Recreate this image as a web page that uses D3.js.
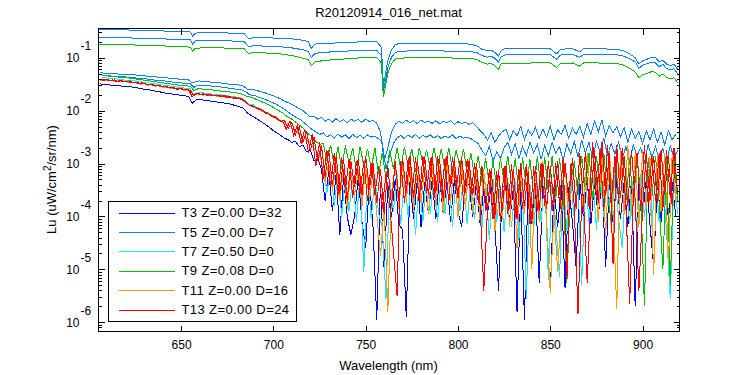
<!DOCTYPE html>
<html><head><meta charset="utf-8">
<script src="https://cdn.jsdelivr.net/npm/d3@7"></script>
<style>
body{margin:0;background:#fff}
svg{display:block}
text{font-family:"Liberation Sans",Arial,Helvetica,sans-serif;fill:#000}
</style>
</head><body>
<svg id="chart" width="750" height="375"></svg>
<script>
// ---------------- DATA (values are log10 of Lu) ----------------
const titleText = "R20120914_016_net.mat";
const xLabelText = "Wavelength (nm)";
const xTickValues = [650, 700, 750, 800, 850, 900];
const yDecades = [-6, -5, -4, -3, -2, -1];
const legendLabels = ["T3 Z=0.00 D=32", "T5 Z=0.00 D=7", "T7 Z=0.50 D=0", "T9 Z=0.08 D=0", "T11 Z=0.00 D=16", "T13 Z=0.00 D=24"];
const legendColors = ["#0000ff", "#0a80ff", "#1ee4ff", "#00c000", "#ff9900", "#ff0000"];

// spectrometer sampling grids (nm)
const wlEven = d3.range(606, 919, 2);   // 606 … 918
const wlOdd  = d3.range(607, 920, 2);   // 607 … 919

// upper (bright) spectra, sampled at break points
const wlTop = [605,615,625,635,645,652,655,656.3,657.5,662,670,678,684,686.5,689,695,703,710,716,719,720.5,722.5,726,732,740,748,756,758.5,759.6,760.8,762,764,766,768,775,785,795,805,810,813,816,818,820,822,823.5,826,830,840,850,853.5,855.5,862,866,868,875,885,889,893,896,898,900,903,905,907,909,911,913,915,917,919];
const t5TopA = [-0.463,-0.470,-0.480,-0.490,-0.500,-0.510,-0.515,-0.600,-0.535,-0.530,-0.530,-0.535,-0.540,-0.640,-0.625,-0.625,-0.630,-0.645,-0.670,-0.700,-0.820,-0.745,-0.730,-0.725,-0.710,-0.700,-0.700,-0.800,-1.530,-1.300,-1.050,-0.850,-0.760,-0.730,-0.725,-0.730,-0.735,-0.740,-0.770,-0.840,-0.870,-0.860,-0.900,-0.970,-0.860,-0.820,-0.830,-0.830,-0.830,-0.930,-0.840,-0.830,-0.890,-0.830,-0.830,-0.840,-0.860,-0.930,-1.000,-1.120,-1.060,-1.020,-0.990,-1.000,-1.080,-1.050,-1.120,-1.150,-1.120,-1.220];
const t5TopB = [-0.613,-0.620,-0.630,-0.640,-0.650,-0.660,-0.665,-0.750,-0.685,-0.680,-0.680,-0.685,-0.690,-0.790,-0.775,-0.780,-0.790,-0.815,-0.850,-0.880,-1.000,-0.920,-0.900,-0.890,-0.875,-0.860,-0.860,-0.960,-1.640,-1.420,-1.180,-0.990,-0.910,-0.880,-0.870,-0.870,-0.875,-0.880,-0.900,-0.960,-0.990,-0.975,-1.010,-1.080,-0.980,-0.940,-0.945,-0.940,-0.940,-1.030,-0.950,-0.940,-0.990,-0.940,-0.935,-0.940,-0.960,-1.020,-1.080,-1.200,-1.140,-1.110,-1.080,-1.100,-1.170,-1.130,-1.200,-1.230,-1.210,-1.300];
const t9Top  = [-0.741,-0.750,-0.760,-0.770,-0.785,-0.795,-0.800,-0.880,-0.820,-0.815,-0.815,-0.820,-0.825,-0.920,-0.905,-0.910,-0.925,-0.960,-1.010,-1.040,-1.150,-1.080,-1.060,-1.040,-1.020,-1.000,-0.995,-1.100,-1.740,-1.530,-1.290,-1.110,-1.030,-1.010,-1.000,-1.000,-1.005,-1.010,-1.030,-1.090,-1.120,-1.110,-1.150,-1.220,-1.110,-1.110,-1.110,-1.100,-1.100,-1.185,-1.110,-1.100,-1.160,-1.100,-1.100,-1.105,-1.130,-1.200,-1.270,-1.380,-1.320,-1.290,-1.260,-1.280,-1.350,-1.310,-1.370,-1.400,-1.380,-1.470];

// lower (noisy) spectra
const t3Low = [ // even grid
-1.49,-1.51,-1.50,-1.52,-1.53,-1.52,-1.54,-1.55,-1.54,-1.56,
-1.57,-1.58,-1.60,-1.60,-1.62,-1.63,-1.64,-1.66,-1.67,-1.68,
-1.69,-1.70,-1.71,-1.72,-1.73,-1.86,-1.80,-1.79,-1.80,-1.81,
-1.82,-1.83,-1.84,-1.85,-1.86,-1.87,-1.89,-1.91,-1.93,-1.96,
-2.05,-2.09,-2.13,-2.18,-2.22,-2.27,-2.32,-2.38,-2.42,-2.47,
-2.52,-2.55,-2.60,-2.58,-2.68,-2.65,-2.78,-2.75,-2.95,-2.90,
-3.10,-3.70,-3.15,-3.90,-3.20,-4.35,-3.25,-4.00,-4.35,-4.00,
-3.25,-4.10,-4.60,-3.30,-4.20,-5.95,-3.35,-5.00,-3.40,-4.00,
-3.30,-4.15,-4.25,-5.90,-3.35,-4.05,-3.30,-4.20,-3.35,-3.95,
-3.30,-4.05,-3.25,-3.95,-3.35,-4.10,-3.30,-3.90,-4.20,-3.35,
-3.40,-4.00,-3.35,-4.15,-3.45,-3.95,-3.40,-4.20,-5.40,-3.45,
-3.40,-4.10,-3.45,-5.80,-3.50,-5.95,-3.40,-4.15,-3.45,-5.25,
-3.40,-4.05,-5.45,-3.45,-4.20,-3.40,-5.35,-3.45,-4.10,-4.95,
-3.35,-4.05,-3.30,-4.15,-3.35,-4.00,-3.30,-4.95,-3.35,-4.10,
-3.30,-4.05,-3.35,-4.20,-3.30,-5.70,-3.35,-4.00,-3.30,-4.15,
-4.95,-3.35,-4.10,-3.30,-4.05,-3.35,-4.00];
const t5LowA = [ // even grid
-1.28,-1.29,-1.29,-1.30,-1.30,-1.31,-1.31,-1.31,-1.32,-1.32,
-1.33,-1.34,-1.34,-1.35,-1.35,-1.36,-1.37,-1.37,-1.38,-1.39,
-1.39,-1.40,-1.41,-1.41,-1.42,-1.48,-1.45,-1.44,-1.45,-1.45,
-1.46,-1.46,-1.47,-1.48,-1.49,-1.50,-1.50,-1.51,-1.52,-1.54,
-1.60,-1.60,-1.61,-1.63,-1.65,-1.67,-1.70,-1.72,-1.75,-1.78,
-1.82,-1.85,-1.88,-1.92,-1.96,-2.00,-2.06,-2.12,-2.10,-2.16,
-2.13,-2.20,-2.16,-2.22,-2.15,-2.21,-2.17,-2.23,-2.16,-2.20,
-2.17,-2.22,-2.16,-2.21,-2.18,-2.24,-2.40,-2.95,-2.70,-2.40,
-2.26,-2.20,-2.24,-2.18,-2.23,-2.19,-2.25,-2.18,-2.22,-2.20,
-2.24,-2.19,-2.25,-2.20,-2.23,-2.19,-2.26,-2.21,-2.24,-2.22,
-2.26,-2.23,-2.30,-2.38,-2.45,-2.55,-2.42,-2.60,-2.48,-2.40,
-2.35,-2.55,-2.38,-2.48,-2.30,-2.55,-2.36,-2.47,-2.32,-2.52,
-2.35,-2.50,-2.30,-2.55,-2.36,-2.45,-2.28,-2.52,-2.33,-2.45,
-2.30,-2.50,-2.24,-2.45,-2.20,-2.40,-2.18,-2.48,-2.28,-2.42,
-2.30,-2.50,-2.32,-2.60,-2.35,-2.52,-2.40,-2.62,-2.38,-2.55,
-2.35,-2.60,-2.40,-2.65,-2.38,-2.55,-2.45];
const t5LowB = [ // odd grid
-1.33,-1.34,-1.34,-1.35,-1.35,-1.36,-1.36,-1.37,-1.38,-1.38,
-1.39,-1.40,-1.40,-1.41,-1.42,-1.43,-1.43,-1.44,-1.45,-1.46,
-1.46,-1.47,-1.48,-1.48,-1.49,-1.56,-1.52,-1.52,-1.53,-1.53,
-1.54,-1.55,-1.55,-1.56,-1.57,-1.58,-1.59,-1.60,-1.61,-1.64,
-1.70,-1.71,-1.73,-1.76,-1.78,-1.81,-1.84,-1.87,-1.91,-1.95,
-2.00,-2.05,-2.10,-2.14,-2.18,-2.24,-2.30,-2.36,-2.40,-2.45,
-2.42,-2.50,-2.45,-2.52,-2.44,-2.50,-2.46,-2.53,-2.45,-2.51,
-2.47,-2.52,-2.46,-2.50,-2.48,-2.53,-2.60,-3.10,-2.85,-2.62,
-2.52,-2.47,-2.53,-2.46,-2.51,-2.45,-2.52,-2.47,-2.50,-2.46,
-2.52,-2.47,-2.53,-2.48,-2.51,-2.46,-2.53,-2.48,-2.52,-2.50,
-2.53,-2.58,-2.62,-2.75,-2.85,-2.68,-2.95,-2.78,-2.90,-2.70,
-2.60,-2.82,-2.62,-2.90,-2.68,-2.85,-2.60,-2.80,-2.64,-2.92,
-2.66,-2.85,-2.60,-2.80,-2.68,-2.95,-2.62,-2.82,-2.58,-2.88,
-2.56,-2.80,-2.60,-2.90,-2.58,-2.78,-2.52,-2.85,-2.62,-2.82,
-2.60,-2.90,-2.68,-2.95,-2.65,-2.85,-2.70,-3.00,-2.64,-2.88,
-2.68,-2.92,-2.72,-2.98,-2.66,-2.90,-2.75];
const t7Low = [ // odd grid
-1.37,-1.38,-1.39,-1.40,-1.40,-1.41,-1.42,-1.43,-1.43,-1.44,
-1.45,-1.46,-1.47,-1.48,-1.49,-1.50,-1.51,-1.52,-1.53,-1.54,
-1.55,-1.56,-1.57,-1.58,-1.59,-1.69,-1.66,-1.66,-1.67,-1.68,
-1.69,-1.70,-1.70,-1.71,-1.72,-1.73,-1.74,-1.75,-1.77,-1.82,
-1.88,-1.89,-1.94,-1.96,-2.01,-2.04,-2.08,-2.12,-2.16,-2.21,
-2.26,-2.30,-2.35,-2.40,-2.46,-2.52,-2.58,-2.66,-2.75,-2.85,
-3.00,-3.55,-3.10,-3.80,-3.15,-4.00,-3.20,-3.90,-3.25,-4.10,
-3.20,-5.05,-3.15,-4.05,-3.25,-3.95,-4.20,-5.55,-3.30,-3.90,
-3.20,-4.15,-3.25,-4.00,-3.20,-4.35,-3.30,-4.10,-3.15,-3.95,
-3.20,-4.10,-3.15,-3.95,-3.25,-4.20,-3.20,-3.90,-3.30,-4.15,
-3.25,-4.05,-3.30,-4.20,-3.35,-4.45,-3.30,-4.10,-3.40,-4.30,
-3.30,-4.20,-3.35,-4.45,-3.30,-5.55,-3.40,-4.25,-3.35,-4.10,
-3.30,-5.20,-3.35,-4.15,-5.15,-3.30,-4.30,-3.25,-4.05,-3.30,
-5.30,-3.25,-4.10,-3.20,-4.25,-3.15,-4.00,-3.25,-4.20,-3.20,
-4.05,-4.60,-3.20,-4.15,-3.25,-4.30,-3.20,-4.00,-3.25,-4.20,
-3.20,-4.10,-3.25,-4.30,-5.55,-3.20,-3.95];
const t9Low = [ // odd grid
-1.33,-1.34,-1.35,-1.35,-1.36,-1.37,-1.38,-1.38,-1.39,-1.40,
-1.41,-1.42,-1.43,-1.44,-1.45,-1.46,-1.47,-1.48,-1.49,-1.50,
-1.51,-1.52,-1.53,-1.53,-1.54,-1.62,-1.59,-1.59,-1.60,-1.60,
-1.61,-1.62,-1.63,-1.63,-1.64,-1.65,-1.66,-1.67,-1.69,-1.72,
-1.74,-1.76,-1.79,-1.82,-1.85,-1.88,-1.92,-1.96,-2.00,-2.04,
-2.10,-2.14,-2.19,-2.24,-2.30,-2.36,-2.44,-2.50,-2.58,-2.64,
-2.62,-2.95,-2.65,-3.05,-2.68,-3.10,-2.66,-3.00,-2.70,-3.15,
-2.68,-3.05,-2.72,-3.10,-2.70,-3.20,-2.80,-3.30,-2.75,-3.10,
-2.70,-3.10,-2.68,-3.05,-2.72,-3.15,-2.70,-3.00,-2.74,-3.10,
-2.70,-3.05,-2.72,-3.15,-2.70,-3.10,-2.75,-3.05,-2.72,-3.20,
-2.80,-3.25,-2.85,-3.35,-2.90,-3.40,-2.95,-3.45,-2.90,-3.35,
-2.85,-3.40,-2.90,-3.55,-2.88,-3.45,-2.92,-3.60,-2.85,-3.50,
-2.88,-3.55,-2.85,-3.65,-2.90,-3.50,-5.25,-3.40,-2.95,-3.60,
-2.85,-3.50,-2.80,-3.70,-2.85,-3.55,-2.80,-3.60,-4.10,-2.90,
-3.55,-2.85,-3.70,-2.90,-3.80,-2.85,-3.60,-5.70,-2.90,-3.65,
-2.85,-3.75,-5.00,-2.90,-5.30,-2.95,-3.70];
const t11Low = [ // even grid
-1.43,-1.42,-1.44,-1.43,-1.45,-1.44,-1.46,-1.45,-1.47,-1.47,
-1.48,-1.50,-1.49,-1.52,-1.51,-1.54,-1.53,-1.56,-1.55,-1.58,
-1.57,-1.59,-1.59,-1.62,-1.61,-1.73,-1.69,-1.68,-1.71,-1.69,
-1.72,-1.71,-1.74,-1.72,-1.75,-1.73,-1.77,-1.75,-1.78,-1.80,
-1.89,-1.90,-1.95,-1.96,-2.02,-2.03,-2.09,-2.10,-2.17,-2.18,
-2.26,-2.25,-2.33,-2.40,-2.45,-2.50,-2.56,-2.62,-2.72,-2.80,
-2.95,-3.35,-3.00,-3.50,-3.05,-3.70,-3.10,-3.85,-3.15,-3.60,
-3.10,-3.80,-3.05,-3.70,-3.15,-3.95,-4.75,-3.80,-5.80,-3.55,
-3.05,-3.85,-3.00,-3.70,-3.05,-3.90,-3.00,-3.75,-3.10,-3.95,
-3.00,-3.80,-3.05,-3.95,-2.95,-3.70,-3.05,-4.00,-3.00,-3.85,
-3.05,-3.95,-3.10,-4.10,-3.15,-3.90,-3.20,-4.30,-3.15,-4.05,
-3.10,-4.20,-3.05,-4.60,-3.15,-3.95,-3.10,-5.00,-3.05,-4.10,
-2.95,-4.05,-5.45,-3.90,-5.05,-3.85,-3.00,-4.10,-2.90,-3.80,
-2.85,-3.95,-2.80,-3.70,-2.75,-4.10,-2.70,-4.40,-2.75,-3.90,
-5.75,-2.75,-3.95,-2.65,-4.00,-2.80,-4.20,-2.75,-3.85,-2.85,
-5.10,-2.85,-3.90,-2.80,-4.90,-2.85,-3.75];
const t13LowA = [ // even grid
-1.40,-1.43,-1.41,-1.44,-1.42,-1.45,-1.43,-1.46,-1.44,-1.47,
-1.46,-1.49,-1.48,-1.51,-1.50,-1.53,-1.52,-1.55,-1.54,-1.57,
-1.56,-1.60,-1.58,-1.61,-1.60,-1.74,-1.67,-1.70,-1.68,-1.71,
-1.70,-1.72,-1.71,-1.73,-1.72,-1.74,-1.75,-1.76,-1.77,-1.79,
-1.87,-1.92,-1.93,-1.98,-1.99,-2.05,-2.07,-2.13,-2.14,-2.21,
-2.18,-2.34,-2.22,-2.45,-2.30,-2.60,-2.40,-2.75,-2.50,-2.95,
-2.65,-3.25,-2.75,-3.40,-2.85,-3.55,-2.90,-3.70,-2.95,-3.45,
-2.90,-3.60,-2.85,-3.50,-3.00,-3.75,-3.10,-3.95,-3.05,-3.80,
-2.95,-3.70,-2.90,-3.55,-2.85,-3.65,-2.95,-3.50,-2.88,-3.60,
-2.85,-3.55,-2.90,-3.70,-2.85,-3.45,-2.92,-3.65,-2.88,-3.55,
-2.95,-3.60,-3.00,-3.80,-5.40,-3.85,-3.10,-4.00,-3.15,-3.90,
-3.05,-3.85,-3.10,-4.05,-3.00,-3.80,-3.15,-4.10,-3.05,-3.90,
-3.00,-3.85,-3.05,-3.75,-2.95,-3.95,-3.00,-3.70,-2.90,-3.85,
-2.80,-3.70,-5.25,-3.65,-2.75,-3.75,-2.60,-3.60,-2.80,-4.90,
-2.65,-3.65,-2.85,-3.80,-2.75,-3.70,-5.40,-3.85,-2.80,-3.70,
-2.85,-3.75,-2.75,-3.60,-2.85,-3.80,-2.80];
const t13LowB = [ // odd grid
-1.42,-1.41,-1.44,-1.42,-1.45,-1.43,-1.46,-1.45,-1.47,-1.46,
-1.49,-1.47,-1.51,-1.50,-1.53,-1.52,-1.55,-1.54,-1.57,-1.56,
-1.59,-1.58,-1.61,-1.60,-1.62,-1.72,-1.68,-1.69,-1.70,-1.70,
-1.72,-1.71,-1.73,-1.72,-1.75,-1.74,-1.77,-1.76,-1.80,-1.84,
-1.90,-1.91,-1.96,-1.97,-2.03,-2.04,-2.10,-2.11,-2.19,-2.20,
-2.35,-2.20,-2.48,-2.28,-2.62,-2.36,-2.80,-2.45,-3.05,-2.60,
-3.30,-2.75,-3.45,-2.80,-3.60,-2.88,-3.50,-2.92,-3.65,-2.95,
-3.55,-2.95,-3.70,-3.00,-3.60,-3.05,-3.85,-3.20,-3.75,-4.65,
-5.50,-2.95,-3.75,-2.90,-3.60,-2.88,-3.70,-2.85,-3.55,-2.90,
-3.65,-2.85,-3.60,-2.90,-3.75,-2.88,-3.50,-2.95,-3.70,-2.92,
-3.60,-3.00,-3.75,-3.05,-3.90,-3.10,-4.05,-3.15,-4.10,-3.05,
-3.95,-3.00,-4.00,-3.10,-3.85,-3.00,-4.15,-3.05,-3.90,-3.00,
-3.80,-2.95,-3.90,-3.00,-3.75,-2.90,-5.20,-3.00,-3.80,-5.85,
-3.70,-2.80,-3.80,-2.60,-3.65,-2.75,-3.90,-2.65,-3.75,-2.85,
-3.70,-2.70,-3.85,-5.65,-3.60,-2.80,-3.90,-2.65,-3.75,-2.85,
-3.70,-2.80,-3.85,-2.75,-3.65,-2.70,-3.60];

// series: legend index (colour), wavelengths, log10 values — drawn in this order
const seriesList = [
  {leg: 0, wl: wlEven, vals: t3Low},
  {leg: 1, wl: wlTop,  vals: t5TopA},
  {leg: 1, wl: wlTop,  vals: t5TopB},
  {leg: 1, wl: wlEven, vals: t5LowA},
  {leg: 1, wl: wlOdd,  vals: t5LowB},
  {leg: 2, wl: wlOdd,  vals: t7Low},
  {leg: 3, wl: wlTop,  vals: t9Top},
  {leg: 3, wl: wlOdd,  vals: t9Low},
  {leg: 4, wl: wlEven, vals: t11Low},
  {leg: 5, wl: wlEven, vals: t13LowA},
  {leg: 5, wl: wlOdd,  vals: t13LowB}
];

// ---------------- CHART ----------------
const svg = d3.select("#chart");
const L = 98, R = 679, T = 28, B = 331;
const x = d3.scaleLinear().domain([605, 920]).range([L, R + 0.5]);
const y = d3.scaleLog().domain([Math.pow(10, -6.164), Math.pow(10, -0.439)]).range([B, T]);

svg.append("rect").attr("width", 750).attr("height", 375).attr("fill", "#fff");
svg.append("defs").append("clipPath").attr("id", "plotclip")
  .append("rect").attr("x", L).attr("y", T).attr("width", R - L).attr("height", B - T);

const line = d3.line().x(d => x(d[0])).y(d => y(d[1]));
const gData = svg.append("g").attr("clip-path", "url(#plotclip)");
seriesList.forEach(s => {
  const n = Math.min(s.wl.length, s.vals.length);
  const pts = [];
  for (let i = 0; i < n; i++) pts.push([s.wl[i], Math.pow(10, s.vals[i])]);
  gData.append("path").attr("d", line(pts)).attr("fill", "none")
    .attr("stroke", legendColors[s.leg]).attr("stroke-width", 1)
    .attr("shape-rendering", "crispEdges");
});

// axes
const majorY = yDecades.map(d => Math.pow(10, d));
const minorY = [];
[-7, -6, -5, -4, -3, -2, -1].forEach(d => { for (let k = 2; k <= 9; k++) { const v = k * Math.pow(10, d); if (v > y.domain()[0] && v < y.domain()[1]) minorY.push(v); } });

function styleAxis(g) {
  g.select(".domain").remove();
  g.selectAll(".tick line").attr("stroke", "#000").attr("shape-rendering", "crispEdges");
  g.selectAll("text").attr("font-size", 12).attr("font-family", '"Liberation Sans",Arial,sans-serif').attr("fill", "#000");
}
svg.append("g").attr("transform", `translate(${L + 0.5},0)`).call(d3.axisLeft(y).tickValues(majorY).tickSize(-6).tickFormat(() => "")).call(styleAxis);
svg.append("g").attr("transform", `translate(${L + 0.5},0)`).call(d3.axisLeft(y).tickValues(minorY).tickSize(-3).tickFormat(() => "")).call(styleAxis);
svg.append("g").attr("transform", `translate(${R + 0.5},0)`).call(d3.axisRight(y).tickValues(majorY).tickSize(-6).tickFormat(() => "")).call(styleAxis);
svg.append("g").attr("transform", `translate(${R + 0.5},0)`).call(d3.axisRight(y).tickValues(minorY).tickSize(-3).tickFormat(() => "")).call(styleAxis);
svg.append("g").attr("transform", `translate(0,${B + 0.5})`).call(d3.axisBottom(x).tickValues(xTickValues).tickSize(-6).tickPadding(8.5).tickFormat(d3.format("d"))).call(styleAxis);
svg.append("g").attr("transform", `translate(0,${T + 0.5})`).call(d3.axisTop(x).tickValues(xTickValues).tickSize(-6).tickFormat(() => "")).call(styleAxis);

// y tick labels 10^n
const gyl = svg.append("g").attr("font-size", 12);
yDecades.forEach(d => {
  const yy = y(Math.pow(10, d));
  gyl.append("text").attr("x", 79.5).attr("y", yy + 4.5).attr("text-anchor", "end").text("10");
  gyl.append("text").attr("x", 80.5).attr("y", yy - 7.5).attr("text-anchor", "start").text("-" + Math.abs(d));
});

// box
svg.append("rect").attr("x", L + 0.5).attr("y", T + 0.5).attr("width", R - L).attr("height", B - T)
  .attr("fill", "none").attr("stroke", "#000").attr("shape-rendering", "crispEdges");

// title & labels
svg.append("text").attr("x", (L + R) / 2).attr("y", 16.5).attr("text-anchor", "middle").attr("font-size", 13).text(titleText);
svg.append("text").attr("x", (L + R) / 2).attr("y", 370).attr("text-anchor", "middle").attr("font-size", 13).text(xLabelText);
const yl = svg.append("text").attr("transform", `translate(56,${(T + B) / 2}) rotate(-90)`).attr("text-anchor", "middle").attr("font-size", 13);
yl.append("tspan").text("Lu (uW/cm");
yl.append("tspan").attr("dy", -5).attr("font-size", 10).text("2");
yl.append("tspan").attr("dy", 5).text("/sr/nm)");

// legend
const lg = svg.append("g");
lg.append("rect").attr("x", 108.5).attr("y", 201.5).attr("width", 188).attr("height", 120)
  .attr("fill", "#fff").attr("stroke", "#000").attr("shape-rendering", "crispEdges");
legendLabels.forEach((lab, i) => {
  const yy = 212.5 + i * 19.4;
  lg.append("line").attr("x1", 119).attr("x2", 175).attr("y1", Math.round(yy) + 0.5).attr("y2", Math.round(yy) + 0.5)
    .attr("stroke", legendColors[i]).attr("stroke-width", 1);
  lg.append("text").attr("x", 181.5).attr("y", yy + 4.7).attr("font-size", 13).attr("letter-spacing", 0.4).text(lab);
});
</script>
</body></html>
